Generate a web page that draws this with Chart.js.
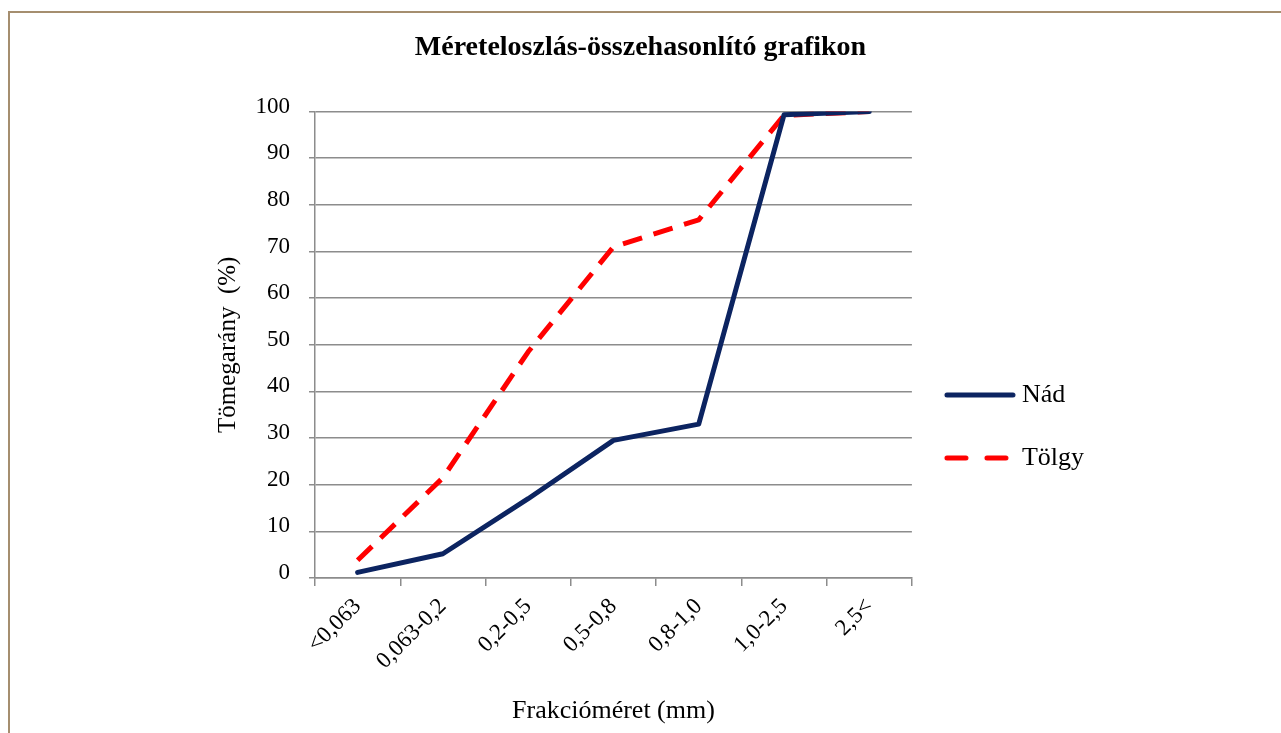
<!DOCTYPE html>
<html>
<head>
<meta charset="utf-8">
<title>Méreteloszlás-összehasonlító grafikon</title>
<script src="https://cdn.jsdelivr.net/npm/chart.js@4.4.1/dist/chart.umd.min.js"></script>
<style>
    html, body { margin: 0; padding: 0; background: #fff; }
    #wrap { position: relative; width: 1281px; height: 733px; overflow: hidden; }
    #frame {
        position: absolute; left: 8px; top: 11px; width: 1400px; height: 800px;
        border-top: 2px solid #a58e6f; border-left: 2px solid #a58e6f;
        pointer-events: none;
    }
    canvas { position: absolute; left: 0; top: 0; }
</style>
</head>
<body>
<div id="wrap">
    <canvas id="sizeChart" width="1281" height="733"></canvas>
    <div id="frame"></div>
</div>
<script>
// Méreteloszlás - chart data
const fractions = ['<0,063', '0,063-0,2', '0,2-0,5', '0,5-0,8', '0,8-1,0', '1,0-2,5', '2,5<'];
const nadValues = [1.2, 5.2, 17, 29.5, 33, 99.3, 100];
const tolgyValues = [3.8, 21.5, 48.5, 71, 76.8, 99.2, 100];
const yTicks = [0, 10, 20, 30, 40, 50, 60, 70, 80, 90, 100];

const serif = "'Liberation Serif', 'DejaVu Serif', serif";
const gridGray = '#8c8c8c';
const nadColor = '#0c2461';
const tolgyColor = '#ff0000';
const tolgyDash = [20, 12];

document.addEventListener('DOMContentLoaded', function() {
    renderSizeChart();
});

// Small canvas used as the legend symbol (a line sample, solid or dashed)
function makeLegendIcon(color, dash) {
    const icon = document.createElement('canvas');
    icon.width = 80;
    icon.height = 8;
    const c = icon.getContext('2d');
    c.strokeStyle = color;
    c.lineWidth = 5;
    c.lineCap = 'round';
    c.setLineDash(dash);
    c.beginPath();
    c.moveTo(8, 4);
    c.lineTo(74, 4);
    c.stroke();
    return icon;
}

function renderSizeChart() {
    const ctx = document.getElementById('sizeChart').getContext('2d');
    new Chart(ctx, {
        type: 'line',
        data: {
            labels: fractions,
            datasets: [{
                label: 'Nád',
                data: nadValues,
                borderColor: nadColor,
                backgroundColor: nadColor,
                borderWidth: 5,
                borderJoinStyle: 'round',
                borderCapStyle: 'round',
                pointRadius: 0,
                pointStyle: makeLegendIcon(nadColor, []),
                tension: 0
            }, {
                label: 'Tölgy',
                data: tolgyValues,
                borderColor: tolgyColor,
                backgroundColor: tolgyColor,
                borderWidth: 5,
                borderDash: tolgyDash,
                borderJoinStyle: 'round',
                pointRadius: 0,
                pointStyle: makeLegendIcon(tolgyColor, [19, 21]),
                tension: 0
            }]
        },
        options: {
            responsive: false,
            animation: false,
            layout: { padding: 0 },
            plugins: {
                title: {
                    display: true,
                    text: 'Méreteloszlás-összehasonlító grafikon',
                    color: '#000',
                    font: { family: serif, size: 28, weight: 'bold' },
                    padding: { top: 31, bottom: 47 }
                },
                legend: {
                    position: 'right',
                    title: {
                        display: true,
                        text: '',
                        font: { size: 10 },
                        padding: { top: 108, bottom: 0 }
                    },
                    labels: {
                        usePointStyle: true,
                        pointStyleWidth: 60,
                        padding: 37,
                        color: '#000',
                        font: { family: serif, size: 26 }
                    }
                },
                tooltip: { enabled: false }
            },
            scales: {
                x: {
                    offset: true,
                    grid: {
                        offset: true,
                        drawOnChartArea: false,
                        tickLength: 8,
                        color: gridGray,
                        lineWidth: 1.5
                    },
                    border: { color: gridGray, width: 1.5 },
                    ticks: {
                        color: '#000',
                        font: { family: serif, size: 23 },
                        minRotation: 45,
                        maxRotation: 45,
                        padding: 7
                    },
                    title: {
                        display: true,
                        text: 'Frakcióméret (mm)',
                        color: '#000',
                        font: { family: serif, size: 26 },
                        padding: { top: 0, bottom: 6 }
                    },
                    afterFit: function(scale) { scale.height = 155; }
                },
                y: {
                    min: 0,
                    max: 100,
                    afterBuildTicks: function(scale) {
                        scale.ticks = yTicks.map(v => ({ value: v }));
                    },
                    grid: {
                        color: gridGray,
                        lineWidth: 1.5,
                        tickLength: 6
                    },
                    border: { color: gridGray, width: 1.5 },
                    ticks: {
                        color: '#000',
                        font: { family: serif, size: 23 },
                        padding: 19,
                        labelOffset: -5
                    },
                    title: {
                        display: true,
                        text: 'Tömegarány  (%)',
                        color: '#000',
                        font: { family: serif, size: 25 },
                        padding: { top: 213, bottom: 0 }
                    },
                    afterFit: function(scale) { scale.width = 315; }
                },
                // empty box outside the legend, keeps the plot width
                spacer: {
                    type: 'linear',
                    position: 'right',
                    weight: 2000,
                    display: true,
                    grid: { display: false },
                    border: { display: false },
                    ticks: { display: false },
                    afterFit: function(scale) { scale.width = 187; }
                }
            }
        }
    });
}
</script>
</body>
</html>
